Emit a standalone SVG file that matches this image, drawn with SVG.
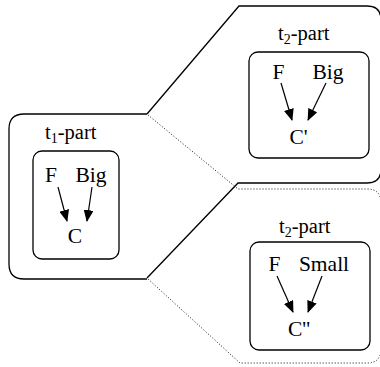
<svg xmlns="http://www.w3.org/2000/svg" width="380" height="367" viewBox="0 0 380 367">
<style>
.solid{fill:none;stroke:#000;stroke-width:1.3}
.dot{fill:none;stroke:#111;stroke-width:1;stroke-dasharray:1,2}
.box{fill:none;stroke:#000;stroke-width:1.3}
.arr{stroke:#000;stroke-width:1.2;fill:none;marker-end:url(#ah)}
text{font-family:"Liberation Serif","Times New Roman",serif;font-size:21.5px;fill:#000}
.lbl{font-size:20.5px}
.sub{font-size:14px}
</style>
<defs>
<marker id="ah" markerUnits="userSpaceOnUse" markerWidth="12" markerHeight="10" refX="11" refY="5" orient="auto">
<path d="M0,0 L12,5 L0,10 Z" fill="#000"/>
</marker>
</defs>
<g id="connectors">
<path class="solid" d="M147,114 L239,6 H367 Q381,6 381,20 V169 Q381,183 367,183 H238 L147,278"/>
<path class="dot" d="M148,115 L238,189 H367 Q381,189 381,203 V349 Q381,363 367,363 H240 L148,279"/>
</g>
<g id="t1-part">
<path class="solid" d="M147,114 H24 Q9,114 9,129 V264 Q9,279 24,279 H147"/>
<text class="lbl" x="45" y="139">t<tspan class="sub" dy="4">1</tspan><tspan dy="-4">-part</tspan></text>
<rect class="box" x="33" y="151" width="86" height="108" rx="9"/>
<text x="51" y="182" text-anchor="middle">F</text>
<text x="91" y="182" text-anchor="middle">Big</text>
<text x="75" y="243" text-anchor="middle">C</text>
<line class="arr" x1="58" y1="187" x2="67" y2="221"/>
<line class="arr" x1="92" y1="187" x2="87" y2="221"/>
</g>
<g id="t2-top">
<text class="lbl" x="278" y="40">t<tspan class="sub" dy="4">2</tspan><tspan dy="-4">-part</tspan></text>
<rect class="box" x="249" y="52" width="120" height="106" rx="9"/>
<text x="278.5" y="79" text-anchor="middle">F</text>
<text x="328" y="79" text-anchor="middle">Big</text>
<text x="298.5" y="144" text-anchor="middle">C'</text>
<line class="arr" x1="281" y1="83" x2="292" y2="120"/>
<line class="arr" x1="326" y1="83" x2="308" y2="120"/>
</g>
<g id="t2-bottom">
<text class="lbl" x="279" y="233">t<tspan class="sub" dy="4">2</tspan><tspan dy="-4">-part</tspan></text>
<rect class="box" x="250" y="242" width="120" height="108" rx="9"/>
<text x="274.5" y="271" text-anchor="middle">F</text>
<text x="324" y="271" text-anchor="middle">Small</text>
<text x="299" y="336" text-anchor="middle">C''</text>
<line class="arr" x1="277" y1="276" x2="293" y2="312"/>
<line class="arr" x1="322" y1="276" x2="308" y2="312"/>
</g>
</svg>
